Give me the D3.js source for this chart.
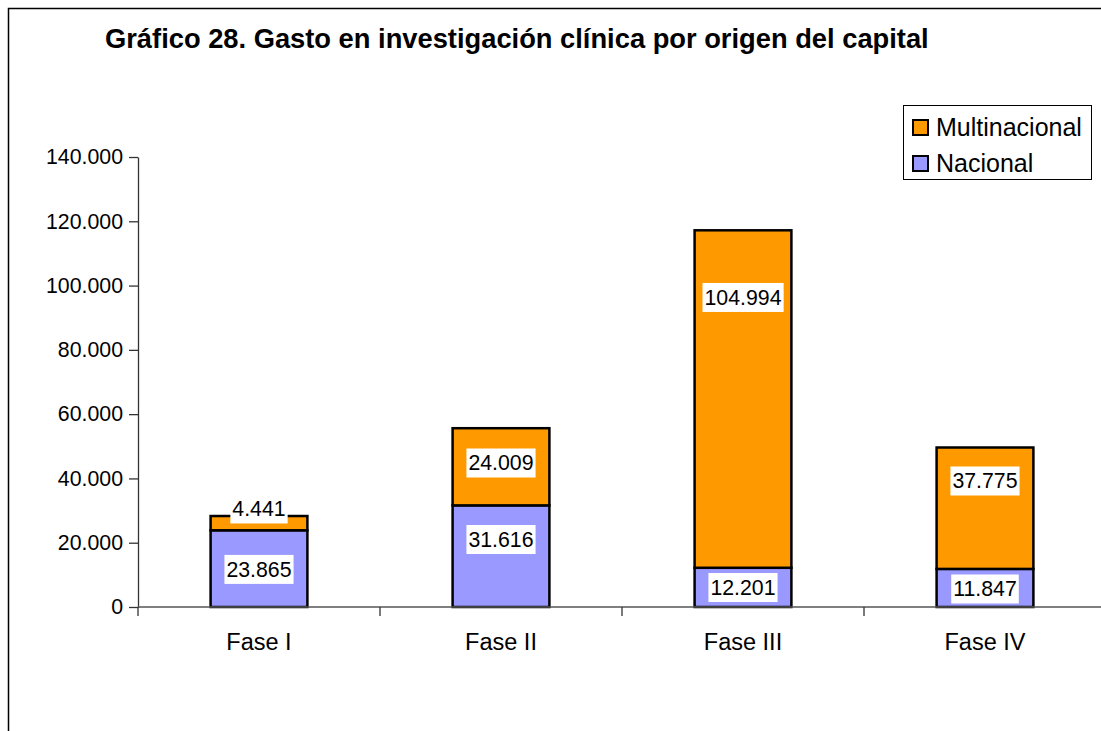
<!DOCTYPE html>
<html><head><meta charset="utf-8">
<script src="https://cdn.jsdelivr.net/npm/d3@7"></script>
<style>
html,body{margin:0;padding:0;background:#fff;}
svg{display:block;font-family:"Liberation Sans",Arial,sans-serif;}
</style></head>
<body>
<svg id="chart" width="1101" height="731"></svg>
<script>
// ---- data ----
const title = "Gráfico 28. Gasto en investigación clínica por origen del capital";
const categories = ["Fase I", "Fase II", "Fase III", "Fase IV"];
const nacional = [23865, 31616, 12201, 11847];
const multinacional = [4441, 24009, 104994, 37775];
const seriesNames = ["Multinacional", "Nacional"];
const yTicks = [0, 20000, 40000, 60000, 80000, 100000, 120000, 140000];
// where each data label sits, in data units (as placed in the original)
const nacionalLabelAt = [11700, 21000, 6070, 5600];
const multinacionalLabelAt = [30500, 44800, 96300, 39200];

// ---- layout ----
const colors = {Multinacional: "#FF9900", Nacional: "#9999FF"};
const svg = d3.select("#chart");
const loc = d3.formatLocale({decimal: ",", thousands: ".", grouping: [3], currency: ["", ""]});
const fmt = loc.format(",d");

const plot = {left: 138, right: 1106, top: 157, bottom: 607};
const x = d3.scaleBand().domain(categories).range([plot.left, plot.right]).paddingInner(0).paddingOuter(0);
const y = d3.scaleLinear().domain([0, 140000]).range([plot.bottom, plot.top]);

// outer frame
svg.append("rect").attr("x", 8.5).attr("y", 8.5).attr("width", 1300).attr("height", 1000)
  .attr("fill", "none").attr("stroke", "#000").attr("stroke-width", 1.5);

// title
svg.append("text").attr("x", 105).attr("y", 48).attr("font-size", 27.3).attr("font-weight", "bold")
  .attr("fill", "#000").text(title);

// bars
const barW = x.bandwidth() * 0.4;
const stacks = categories.map((c, i) => ({
  cat: c,
  segs: [
    {name: "Nacional", y0: 0, y1: nacional[i], v: nacional[i], at: nacionalLabelAt[i]},
    {name: "Multinacional", y0: nacional[i], y1: nacional[i] + multinacional[i], v: multinacional[i], at: multinacionalLabelAt[i]}
  ]
}));

const g = svg.append("g");
stacks.forEach(s => {
  s.segs.forEach(seg => {
    g.append("rect")
      .attr("x", x(s.cat) + (x.bandwidth() - barW) / 2)
      .attr("y", y(seg.y1))
      .attr("width", barW)
      .attr("height", y(seg.y0) - y(seg.y1))
      .attr("fill", colors[seg.name])
      .attr("stroke", "#000").attr("stroke-width", 2.5);
  });
});

// axes
const yAxis = d3.axisLeft(y).tickValues(yTicks).tickFormat(fmt).tickSize(9).tickSizeOuter(0).tickPadding(6);
const ya = svg.append("g").attr("transform", `translate(${plot.left},0)`).call(yAxis);
ya.select(".domain").attr("stroke", "#333").attr("stroke-width", 1.3);
ya.selectAll(".tick line").attr("stroke", "#333").attr("stroke-width", 1.3);
ya.selectAll(".tick text").attr("font-size", 21.3).attr("fill", "#000")
  .attr("font-family", "Liberation Sans, Arial, sans-serif");

const xa = svg.append("g").attr("transform", `translate(0,${plot.bottom})`);
xa.append("line").attr("x1", plot.left).attr("x2", plot.right).attr("y1", 0).attr("y2", 0)
  .attr("stroke", "#555").attr("stroke-width", 1.5);
const bounds = categories.map(c => x(c)).concat([plot.right]);
xa.selectAll("line.tk").data(bounds).join("line").attr("class", "tk")
  .attr("x1", d => d).attr("x2", d => d).attr("y1", 0).attr("y2", 9)
  .attr("stroke", "#333").attr("stroke-width", 1.3);
xa.selectAll("text").data(categories).join("text")
  .attr("x", d => x(d) + x.bandwidth() / 2).attr("y", 43)
  .attr("text-anchor", "middle").attr("font-size", 23.5).attr("fill", "#000").text(d => d);

// data labels with white boxes
const lg = svg.append("g");
stacks.forEach(s => {
  s.segs.forEach(seg => {
    const cx = x(s.cat) + x.bandwidth() / 2;
    const cy = y(seg.at);
    const t = lg.append("text").attr("x", cx).attr("y", cy).attr("dy", "0.35em")
      .attr("text-anchor", "middle").attr("font-size", 21.3).attr("fill", "#000").text(fmt(seg.v));
    const bb = t.node().getBBox();
    lg.insert("rect", "text").attr("x", bb.x - 2).attr("y", cy - 14.5)
      .attr("width", bb.width + 4).attr("height", 29).attr("fill", "#fff");
  });
});

// legend
const leg = svg.append("g");
leg.append("rect").attr("x", 903.5).attr("y", 105.5).attr("width", 188).attr("height", 74)
  .attr("fill", "#fff").attr("stroke", "#000").attr("stroke-width", 1);
seriesNames.forEach((n, i) => {
  const cy = 127 + i * 36;
  leg.append("rect").attr("x", 913).attr("y", cy - 7).attr("width", 15).attr("height", 15)
    .attr("fill", colors[n]).attr("stroke", "#000").attr("stroke-width", 2);
  leg.append("text").attr("x", 936).attr("y", cy).attr("dy", "0.36em")
    .attr("font-size", 25).attr("fill", "#000").text(n);
});
</script>
</body></html>
